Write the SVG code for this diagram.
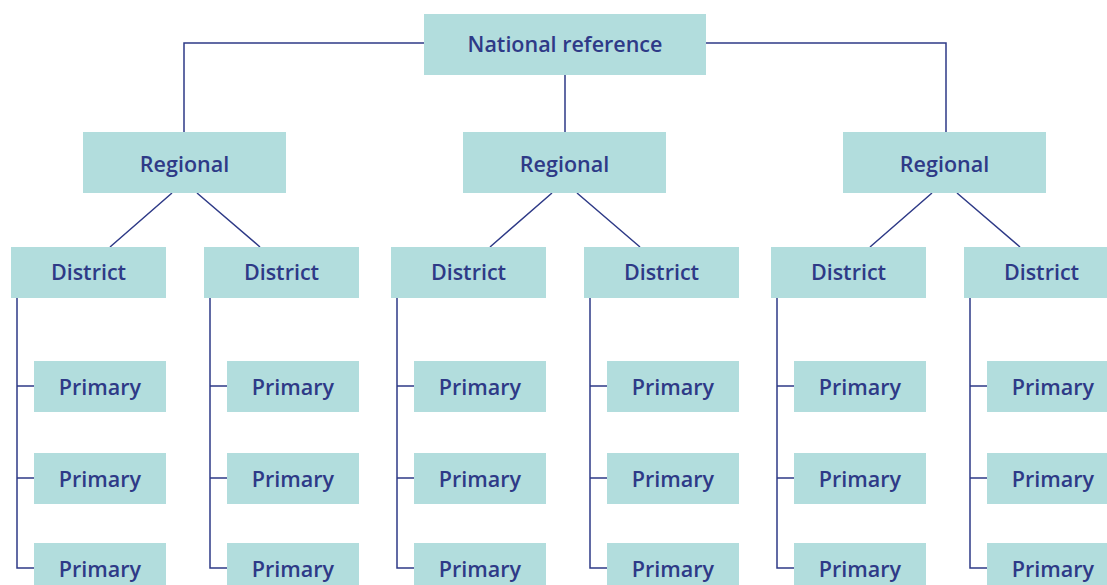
<svg xmlns="http://www.w3.org/2000/svg" width="1107" height="585" viewBox="0 0 1107 585">
  <style>
    .box { fill: #b2dddd; }
    .lbl { font-family: "Open Sans", "Liberation Sans", sans-serif; font-weight: 600; font-size: 21.5px; fill: #2e3a87; text-anchor: middle; }
    .conn { fill: none; stroke: #2e3a87; stroke-width: 1.5; }
  </style>
  <rect width="1107" height="585" fill="#ffffff"/>

  <!-- connectors -->
  <g id="connectors" class="conn">
    <path d="M184,132 V43 H424 M706,43 H946 V132 M565,75 V132"/>
    <path d="M172,193 L110,247 M197,193 L260,247"/>
    <path d="M552,193 L490,247 M577,193 L640,247"/>
    <path d="M932,193 L870,247 M957,193 L1020,247"/>
    <path d="M17,298 V568 H34 M17,386 H34 M17,478 H34"/>
    <path d="M210,298 V568 H227 M210,386 H227 M210,478 H227"/>
    <path d="M397,298 V568 H414 M397,386 H414 M397,478 H414"/>
    <path d="M590,298 V568 H607 M590,386 H607 M590,478 H607"/>
    <path d="M777,298 V568 H794 M777,386 H794 M777,478 H794"/>
    <path d="M970,298 V568 H987 M970,386 H987 M970,478 H987"/>
  </g>

  <!-- national -->
  <g id="national">
    <rect class="box" x="424" y="14" width="282" height="61"/>
    <text class="lbl" x="565" y="52">National reference</text>
  </g>

  <!-- regional -->
  <g id="regional-1"><rect class="box" x="83" y="132" width="203" height="61"/><text class="lbl" x="184.5" y="172">Regional</text></g>
  <g id="regional-2"><rect class="box" x="463" y="132" width="203" height="61"/><text class="lbl" x="564.5" y="172">Regional</text></g>
  <g id="regional-3"><rect class="box" x="843" y="132" width="203" height="61"/><text class="lbl" x="944.5" y="172">Regional</text></g>

  <!-- districts -->
  <g id="district-1"><rect class="box" x="11" y="247" width="155" height="51"/><text class="lbl" x="88.5" y="280">District</text></g>
  <g id="district-2"><rect class="box" x="204" y="247" width="155" height="51"/><text class="lbl" x="281.5" y="280">District</text></g>
  <g id="district-3"><rect class="box" x="391" y="247" width="155" height="51"/><text class="lbl" x="468.5" y="280">District</text></g>
  <g id="district-4"><rect class="box" x="584" y="247" width="155" height="51"/><text class="lbl" x="661.5" y="280">District</text></g>
  <g id="district-5"><rect class="box" x="771" y="247" width="155" height="51"/><text class="lbl" x="848.5" y="280">District</text></g>
  <g id="district-6"><rect class="box" x="964" y="247" width="155" height="51"/><text class="lbl" x="1041.5" y="280">District</text></g>

  <!-- primary units -->
  <g id="primary-1a"><rect class="box" x="34" y="361" width="132" height="51"/><text class="lbl" x="100" y="394.5">Primary</text></g>
  <g id="primary-1b"><rect class="box" x="34" y="453" width="132" height="51"/><text class="lbl" x="100" y="486.5">Primary</text></g>
  <g id="primary-1c"><rect class="box" x="34" y="543" width="132" height="51"/><text class="lbl" x="100" y="576.5">Primary</text></g>

  <g id="primary-2a"><rect class="box" x="227" y="361" width="132" height="51"/><text class="lbl" x="293" y="394.5">Primary</text></g>
  <g id="primary-2b"><rect class="box" x="227" y="453" width="132" height="51"/><text class="lbl" x="293" y="486.5">Primary</text></g>
  <g id="primary-2c"><rect class="box" x="227" y="543" width="132" height="51"/><text class="lbl" x="293" y="576.5">Primary</text></g>

  <g id="primary-3a"><rect class="box" x="414" y="361" width="132" height="51"/><text class="lbl" x="480" y="394.5">Primary</text></g>
  <g id="primary-3b"><rect class="box" x="414" y="453" width="132" height="51"/><text class="lbl" x="480" y="486.5">Primary</text></g>
  <g id="primary-3c"><rect class="box" x="414" y="543" width="132" height="51"/><text class="lbl" x="480" y="576.5">Primary</text></g>

  <g id="primary-4a"><rect class="box" x="607" y="361" width="132" height="51"/><text class="lbl" x="673" y="394.5">Primary</text></g>
  <g id="primary-4b"><rect class="box" x="607" y="453" width="132" height="51"/><text class="lbl" x="673" y="486.5">Primary</text></g>
  <g id="primary-4c"><rect class="box" x="607" y="543" width="132" height="51"/><text class="lbl" x="673" y="576.5">Primary</text></g>

  <g id="primary-5a"><rect class="box" x="794" y="361" width="132" height="51"/><text class="lbl" x="860" y="394.5">Primary</text></g>
  <g id="primary-5b"><rect class="box" x="794" y="453" width="132" height="51"/><text class="lbl" x="860" y="486.5">Primary</text></g>
  <g id="primary-5c"><rect class="box" x="794" y="543" width="132" height="51"/><text class="lbl" x="860" y="576.5">Primary</text></g>

  <g id="primary-6a"><rect class="box" x="987" y="361" width="132" height="51"/><text class="lbl" x="1053" y="394.5">Primary</text></g>
  <g id="primary-6b"><rect class="box" x="987" y="453" width="132" height="51"/><text class="lbl" x="1053" y="486.5">Primary</text></g>
  <g id="primary-6c"><rect class="box" x="987" y="543" width="132" height="51"/><text class="lbl" x="1053" y="576.5">Primary</text></g>
</svg>
